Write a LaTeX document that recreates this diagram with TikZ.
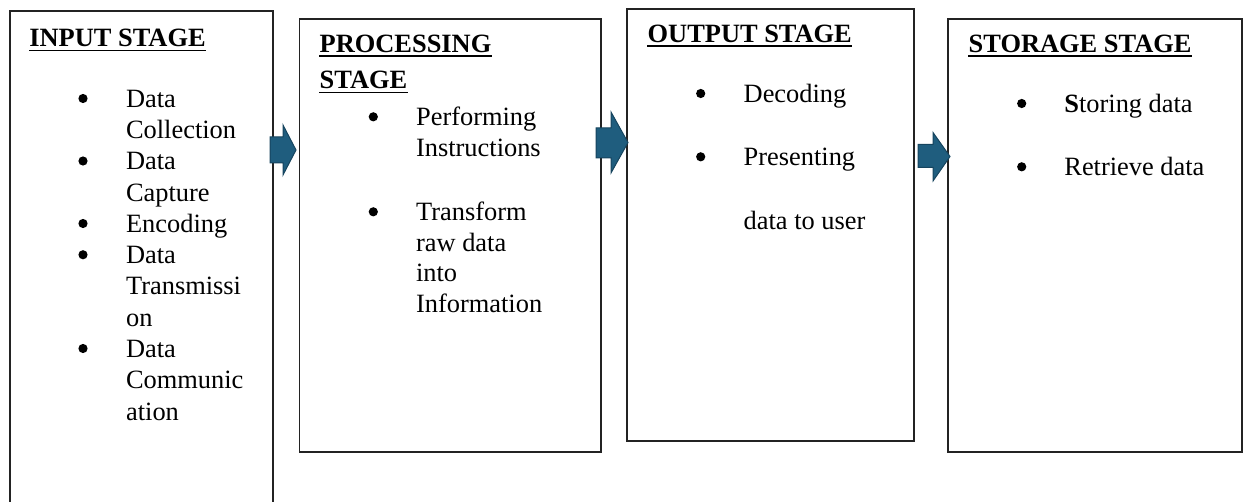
\documentclass[tikz,border=0pt]{standalone}
\usepackage{fontspec}
\setmainfont{Liberation Serif}
\definecolor{arrowfill}{RGB}{31,93,126}
\definecolor{arrowedge}{RGB}{22,68,94}
\definecolor{boxedge}{RGB}{35,35,35}
\begin{document}
\begin{tikzpicture}[x=0.5pt,y=-0.5pt,
  stagebox/.style={draw=boxedge,line width=0.6pt},
  blockarrow/.style={fill=arrowfill,draw=arrowedge,line width=0.5pt,line join=miter},
  txt/.style={anchor=base west,inner sep=0pt,font=\fontsize{13.2}{15.6}\selectfont},
  heading/.style={anchor=base west,inner sep=0pt,font=\fontsize{13.2}{15.6}\selectfont\bfseries},
  bul/.style={circle,fill=black,inner sep=0pt,minimum size=4.6pt,yshift=4.5pt},
  uline/.style={line width=0.75pt}]
\useasboundingbox (0,0) rectangle (1248,502);
\clip (0,0) rectangle (1248,502);

% stage frames
\draw[stagebox] (10,11) rectangle (273,530);
\draw[stagebox] (299.5,19) rectangle (601,452);
\draw[stagebox] (627,9) rectangle (914,441);
\draw[stagebox] (948,19) rectangle (1242,452);

% block arrows between stages
\draw[blockarrow] (270,137) -- (283,137) -- (283,125) -- (296,150) -- (283,175) -- (283,163) -- (270,163) -- cycle;
\draw[blockarrow] (596,128) -- (611,128) -- (611,112) -- (628,142.5) -- (611,173) -- (611,158) -- (596,158) -- cycle;
\draw[blockarrow] (918,144.5) -- (933,144.5) -- (933,132.5) -- (950,156.5) -- (933,181) -- (933,167.5) -- (918,167.5) -- cycle;

% input stage
\node[heading] (inT) at (29,46.8) {INPUT STAGE};
\draw[uline] ([yshift=-1.75pt]inT.base west) -- ([yshift=-1.75pt]inT.base east);
\node[bul] (inB1) at (83,107.5) {};
\node[txt] (in1) at (125.7,107.5) {Data};
\node[txt] (in2) at (125.7,138.75) {Collection};
\node[bul] (inB2) at (83,170) {};
\node[txt] (in3) at (125.7,170) {Data};
\node[txt] (in4) at (125.7,201.25) {Capture};
\node[bul] (inB3) at (83,232.5) {};
\node[txt] (in5) at (125.7,232.5) {Encoding};
\node[bul] (inB4) at (83,263.75) {};
\node[txt] (in6) at (125.7,263.75) {Data};
\node[txt] (in7) at (125.7,295) {Transmissi};
\node[txt] (in8) at (125.7,326.25) {on};
\node[bul] (inB5) at (83,357.5) {};
\node[txt] (in9) at (125.7,357.5) {Data};
\node[txt] (in10) at (125.7,388.75) {Communic};
\node[txt] (in11) at (125.7,420) {ation};

% processing stage
\node[heading] (prT1) at (319.3,52.5) {PROCESSING};
\draw[uline] ([yshift=-1.75pt]prT1.base west) -- ([yshift=-1.75pt]prT1.base east);
\node[heading] (prT2) at (319.3,89) {STAGE};
\draw[uline] ([yshift=-1.75pt]prT2.base west) -- ([yshift=-1.75pt]prT2.base east);
\node[bul] (prB1) at (373.3,125.8) {};
\node[txt] (pr1) at (415.7,125.8) {Performing};
\node[txt] (pr2) at (415.7,156.3) {Instructions};
\node[bul] (prB2) at (373.3,220.8) {};
\node[txt] (pr3) at (415.7,220.8) {Transform};
\node[txt] (pr4) at (415.7,251.3) {raw data};
\node[txt] (pr5) at (415.7,281.8) {into};
\node[txt] (pr6) at (415.7,312.3) {Information};

% output stage
\node[heading] (ouT) at (647.3,42.5) {OUTPUT STAGE};
\draw[uline] ([yshift=-1.75pt]ouT.base west) -- ([yshift=-1.75pt]ouT.base east);
\node[bul] (ouB1) at (700.7,102.5) {};
\node[txt] (ou1) at (743.3,102.5) {Decoding};
\node[bul] (ouB2) at (700.7,165.8) {};
\node[txt] (ou2) at (743.3,165.8) {Presenting};
\node[txt] (ou3) at (743.3,229.3) {data to user};

% storage stage
\node[heading] (stT) at (968.3,52.5) {STORAGE STAGE};
\draw[uline] ([yshift=-1.75pt]stT.base west) -- ([yshift=-1.75pt]stT.base east);
\node[bul] (stB1) at (1021.7,112.5) {};
\node[txt] (st1) at (1064,112.5) {{\bfseries S}toring data};
\node[bul] (stB2) at (1021.7,175.8) {};
\node[txt] (st2) at (1064,175.8) {Retrieve data};
\end{tikzpicture}
\end{document}
